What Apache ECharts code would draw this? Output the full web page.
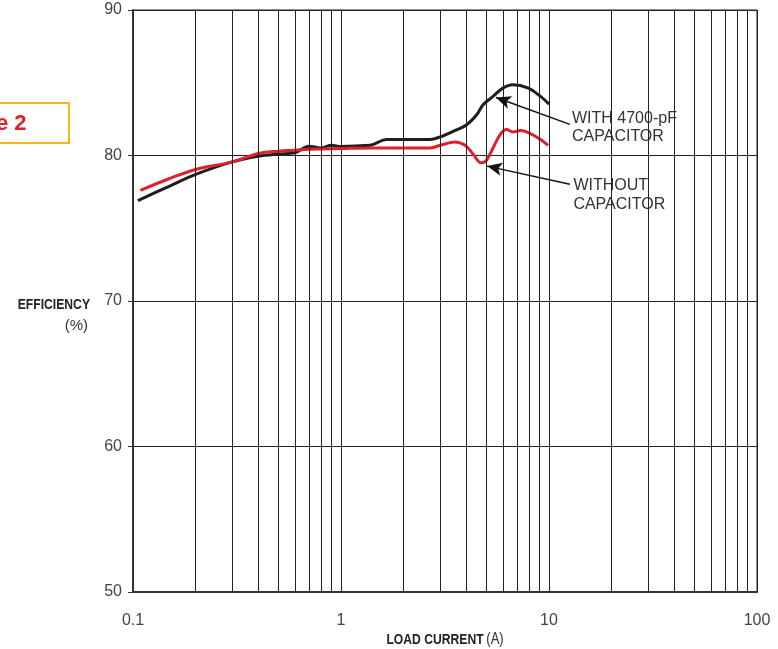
<!DOCTYPE html>
<html>
<head>
<meta charset="utf-8">
<script src="https://cdn.jsdelivr.net/npm/echarts@6/dist/echarts.min.js"></script>
<style>
html,body{margin:0;padding:0;background:#fff;}
#chart{width:778px;height:649px;}
</style>
</head>
<body>
<div id="chart"></div>
<script>
// ---- data ----
var withCapX = [0.1056,0.15,0.2,0.3,0.4,0.5,0.6,0.7,0.8,0.9,1.0,1.38,1.45,1.65,2.68,3.0,3.46,4.02,4.49,4.82,5.38,6.0,6.7,7.95,9.1,10.0];
var withCapY = [76.9,77.9,78.7,79.56,79.95,80.1,80.18,80.64,80.52,80.7,80.62,80.7,80.8,81.1,81.1,81.28,81.66,82.12,82.8,83.49,84.06,84.63,84.86,84.63,84.06,83.53];
var withoutCapX = [0.1085,0.15,0.2,0.3,0.4,0.5,0.6,0.7,0.8,1.0,1.38,2.68,3.0,3.53,3.95,4.33,4.7,4.96,5.38,5.82,6.26,6.7,7.3,8.0,9.1,9.9];
var withoutCapY = [77.6,78.42,79.04,79.56,80.14,80.3,80.36,80.43,80.45,80.48,80.52,80.52,80.7,80.93,80.7,80.07,79.5,79.6,80.52,81.44,81.78,81.62,81.71,81.55,81.1,80.7];
var xTickLabels = ['0.1','1','10','100'];
var yTickLabels = ['50','60','70','80','90'];
var minorGridX = [0.2,0.3,0.4,0.5,0.6,0.7,0.8,0.9,2,3,4,5,6,7,8,9,20,30,40,50,60,70,80,90];
var seriesNames = ['WITH 4700-pF CAPACITOR','WITHOUT CAPACITOR'];
// annotation anchors in data coordinates: [tailX, tailY, tipX, tipY]
var arrowWith = [12.6, 82.14, 5.56, 83.99];
var arrowWithout = [12.6, 78.03, 5.04, 79.27];
var labelWith = [{x:12.9, y:82.55, t:'WITH 4700-pF'},{x:12.9, y:81.32, t:'CAPACITOR'}];
var labelWithout = [{x:13.1, y:77.9, t:'WITHOUT'},{x:13.1, y:76.6, t:'CAPACITOR'}];

function zip(a,b){return a.map(function(v,i){return [v,b[i]];});}

var chart = echarts.init(document.getElementById('chart'));
var option = {
  animation:false,
  backgroundColor:'#fff',
  grid:{left:133,right:21,top:10,bottom:57,show:true,borderColor:'#222',borderWidth:1,backgroundColor:'transparent'},
  xAxis:{
    type:'log', logBase:10, min:0.1, max:100,
    axisLine:{show:true,lineStyle:{color:'#333',width:2}},
    axisTick:{show:false},
    axisLabel:{color:'#444',fontSize:16,fontFamily:'Liberation Sans',margin:21,
      formatter:function(v){var i=Math.round(Math.log10(v))+1;return xTickLabels[i]||'';}},
    splitLine:{show:true,lineStyle:{color:'#222',width:1}}
  },
  yAxis:{
    type:'value', min:50, max:90, interval:10,
    axisLine:{show:true,lineStyle:{color:'#333',width:2}},
    axisTick:{show:true,length:5,lineStyle:{color:'#333',width:1}},
    axisLabel:{color:'#444',fontSize:16,fontFamily:'Liberation Sans',margin:11,
      formatter:function(v){var i=Math.round((v-50)/10);return yTickLabels[i]||'';}},
    splitLine:{show:true,lineStyle:{color:'#222',width:1}}
  },
  series:[
    {
      type:'line', name:'grid', data:[], z:1, silent:true,
      markLine:{silent:true,symbol:['none','none'],label:{show:false},animation:false,
        lineStyle:{color:'#222',width:1,type:'solid'},
        data:minorGridX.map(function(v){return {xAxis:v};})}
    },
    {
      type:'line', name:seriesNames[0], data:zip(withCapX,withCapY), smooth:0.35, showSymbol:false, z:3,
      lineStyle:{color:'#1e1e1e',width:3}, itemStyle:{color:'#1e1e1e'},
      markLine:{silent:true,symbol:['none','arrow'],symbolSize:[10,15],label:{show:false},animation:false,
        lineStyle:{color:'#111',width:1.5,type:'solid'},
        data:[[{coord:[arrowWith[0],arrowWith[1]]},{coord:[arrowWith[2],arrowWith[3]]}],
              [{coord:[arrowWithout[0],arrowWithout[1]]},{coord:[arrowWithout[2],arrowWithout[3]]}]]}
    },
    {
      type:'line', name:seriesNames[1], data:zip(withoutCapX,withoutCapY), smooth:0.35, showSymbol:false, z:4,
      lineStyle:{color:'#e0202b',width:3}, itemStyle:{color:'#e0202b'}
    }
  ]
};
chart.setOption(option);

function px(x,y){return chart.convertToPixel({xAxisIndex:0,yAxisIndex:0},[x,y]);}
var g = [];
labelWith.concat(labelWithout).forEach(function(l){
  var p = px(l.x,l.y);
  g.push({type:'text',x:p[0],y:p[1],silent:true,style:{text:l.t,fill:'#333',font:'16px "Liberation Sans", sans-serif',align:'left',verticalAlign:'middle'}});
});
g.push({type:'text',x:90,y:305,scaleX:0.81,style:{text:'EFFICIENCY',fill:'#222',font:'bold 15px "Liberation Sans", sans-serif',align:'right',verticalAlign:'middle'}});
g.push({type:'text',x:88,y:326,style:{text:'(%)',fill:'#333',font:'15px "Liberation Sans", sans-serif',align:'right',verticalAlign:'middle'}});
g.push({type:'text',x:445,y:640,scaleX:0.81,style:{text:'{b|LOAD CURRENT} {n|(A)}',align:'center',verticalAlign:'middle',
  rich:{b:{fontFamily:'Liberation Sans',fontWeight:'bold',fontSize:15,fill:'#222',color:'#222'},
        n:{fontFamily:'Liberation Sans',fontSize:16,fill:'#333',color:'#333'}}}});
g.push({type:'rect',shape:{x:-4,y:103,width:73,height:40},style:{fill:'none',stroke:'#f6b816',lineWidth:2}});
g.push({type:'text',x:-4,y:124,style:{text:'e 2',fill:'#e3202a',font:'bold 22px "Liberation Sans", sans-serif',align:'left',verticalAlign:'middle'}});
chart.setOption({graphic:g});
</script>
</body>
</html>
